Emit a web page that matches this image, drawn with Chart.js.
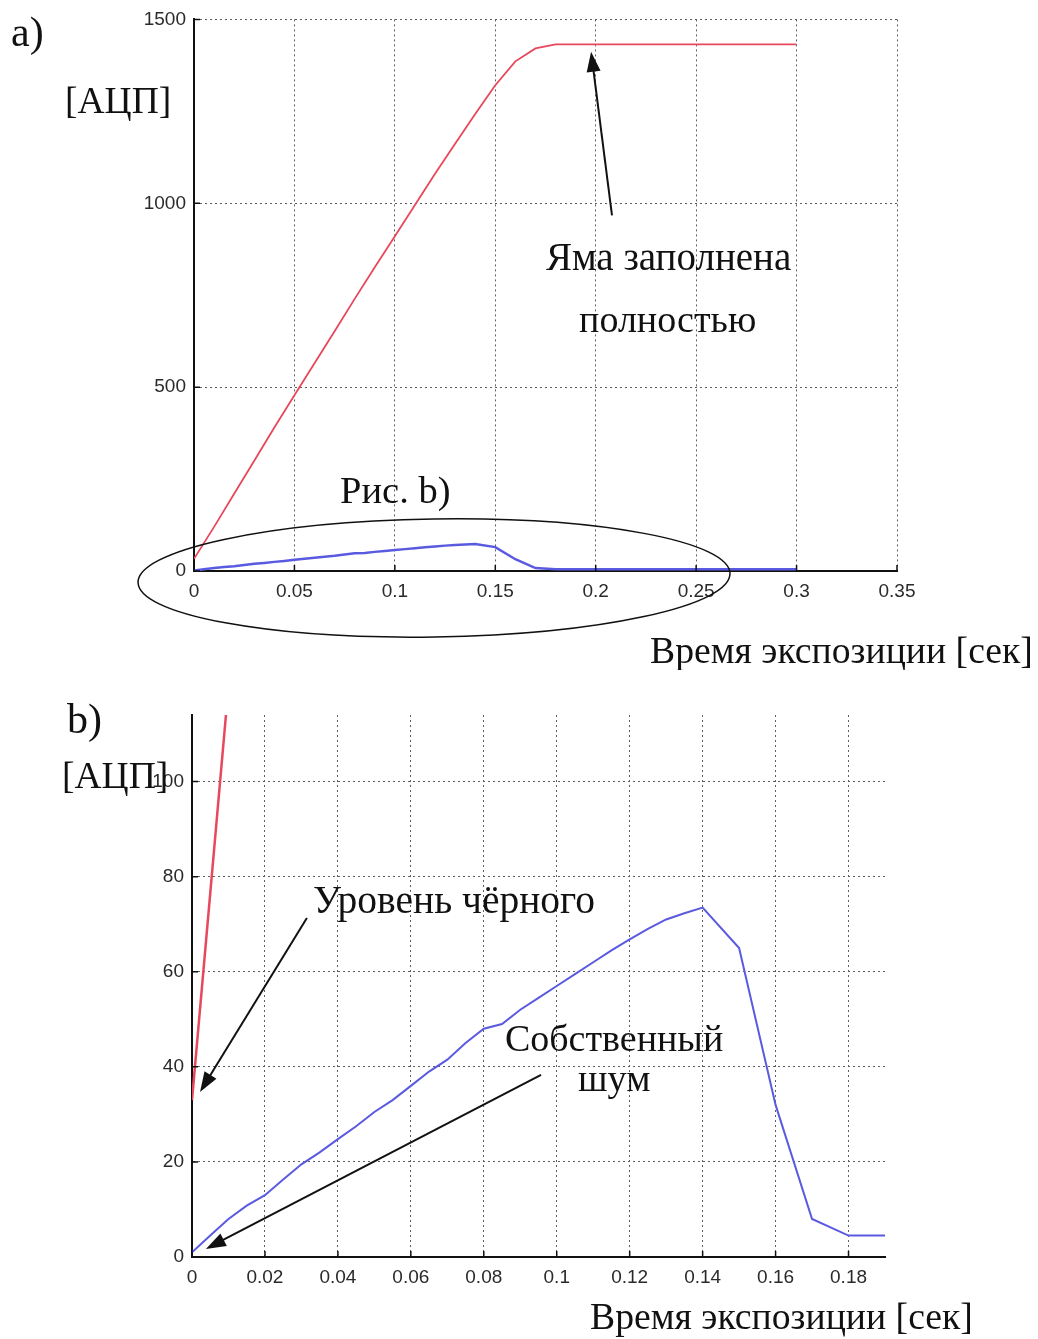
<!DOCTYPE html>
<html>
<head>
<meta charset="utf-8">
<title>Время экспозиции — АЦП</title>
<script src="https://cdn.jsdelivr.net/npm/chart.js@4.4.1/dist/chart.umd.min.js"></script>
<style>
  html, body { margin: 0; padding: 0; background: #fff; }
  #wrapA { position: absolute; left: 0; top: 0; width: 1038px; height: 670px; }
  #wrapB { position: absolute; left: 0; top: 670px; width: 1038px; height: 669px; }
</style>
</head>
<body>
<div id="wrapA"><canvas id="chartA"></canvas></div>
<div id="wrapB"><canvas id="chartB"></canvas></div>
<script>
// ---- measured signal: pixel output vs exposure time ----
// full signal (well filling up, saturates)
const timeRed = [0, 0.01, 0.02, 0.03, 0.04, 0.05, 0.06, 0.07, 0.08, 0.09, 0.10,
                 0.11, 0.12, 0.13, 0.14, 0.15, 0.16, 0.17, 0.18, 0.30];
const adcRed  = [33, 120, 210, 300, 390, 478, 565, 652, 740, 826, 910,
                 995, 1080, 1162, 1243, 1321, 1386, 1421, 1432, 1432];

// intrinsic noise
const timeBlue = [0, 0.005, 0.01, 0.015, 0.02, 0.025, 0.03, 0.035, 0.04, 0.045, 0.05,
                  0.055, 0.06, 0.065, 0.07, 0.075, 0.08, 0.085, 0.09, 0.095, 0.10,
                  0.105, 0.11, 0.115, 0.12, 0.125, 0.13, 0.135, 0.14, 0.15, 0.16,
                  0.17, 0.18, 0.19, 0.30];
const adcBlue  = [1, 4.5, 8, 10.8, 13, 16.3, 19.5, 22, 24.8, 27.5, 30.5,
                  33, 36, 39, 41.5, 45, 48, 49, 52, 54.5, 57,
                  59.5, 62, 64.5, 66.8, 69, 71, 72.3, 73.5, 65, 32,
                  8, 4.5, 4.5, 4.5];

// axis ticks
const xTicksA = [0, 0.05, 0.1, 0.15, 0.2, 0.25, 0.3, 0.35];
const yTicksA = [0, 500, 1000, 1500];
const xTicksB = [0, 0.02, 0.04, 0.06, 0.08, 0.1, 0.12, 0.14, 0.16, 0.18];
const yTicksB = [0, 20, 40, 60, 80, 100];

const RED = '#e8485c';
const BLUE = '#5a5ae0';
const SERIF = '"Liberation Serif", "DejaVu Serif", serif';
const SANS = '"Liberation Sans", Arial, sans-serif';

const pts = (xs, ys) => xs.map((x, i) => ({ x: x, y: ys[i] }));
const fmt = v => String(+Number(v).toFixed(3));

function arrow(ctx, x1, y1, x2, y2) {
  const head = 20, half = 7;
  const a = Math.atan2(y2 - y1, x2 - x1);
  const c = Math.cos(a), s = Math.sin(a);
  ctx.beginPath();
  ctx.moveTo(x1, y1);
  ctx.lineTo(x2 - c * head * 0.7, y2 - s * head * 0.7);
  ctx.stroke();
  ctx.beginPath();
  ctx.moveTo(x2, y2);
  ctx.lineTo(x2 - head * c + half * s, y2 - head * s - half * c);
  ctx.lineTo(x2 - head * c - half * s, y2 - head * s + half * c);
  ctx.closePath();
  ctx.fill();
}

// inward tick marks along both axes
function innerTicks(chart, len) {
  const ctx = chart.ctx, xs = chart.scales.x, ys = chart.scales.y, ca = chart.chartArea;
  ctx.save();
  ctx.strokeStyle = '#111';
  ctx.lineWidth = 1.5;
  ctx.beginPath();
  xs.ticks.forEach(t => {
    const px = xs.getPixelForValue(t.value);
    ctx.moveTo(px, ca.bottom); ctx.lineTo(px, ca.bottom - len);
  });
  ys.ticks.forEach(t => {
    const py = ys.getPixelForValue(t.value);
    ctx.moveTo(ca.left, py); ctx.lineTo(ca.left + len, py);
  });
  ctx.stroke();
  ctx.restore();
}

function axisOptions(ticksArr, min, max, fixedSize, isX) {
  return {
    type: 'linear',
    min: min, max: max,
    afterBuildTicks: s => { s.ticks = ticksArr.map(v => ({ value: v })); },
    afterFit: s => { if (isX) s.height = fixedSize; else s.width = fixedSize; },
    grid: { color: '#5e5e5e', lineWidth: 1, drawTicks: false },
    border: { display: true, color: '#111', width: 2, dash: [2, 3] },
    ticks: {
      padding: isX ? 9 : 8,
      color: '#2a2a2a',
      font: { family: SANS, size: 19 },
      callback: v => fmt(v),
      maxRotation: 0, autoSkip: false
    }
  };
}

function label(ctx, text, size, x, y) {
  ctx.font = size + 'px ' + SERIF;
  ctx.fillText(text, x, y);
}

const annotA = {
  id: 'annotA',
  afterDraw(chart) {
    const ctx = chart.ctx, xs = chart.scales.x, ys = chart.scales.y;
    innerTicks(chart, 6);
    ctx.save();
    ctx.fillStyle = '#111';
    ctx.strokeStyle = '#111';
    ctx.textBaseline = 'alphabetic';
    label(ctx, 'a)', 42, 11, 46);
    label(ctx, '[АЦП]', 37.5, 65, 113);
    label(ctx, 'Яма заполнена', 39, xs.getPixelForValue(0.1752), ys.getPixelForValue(818));
    label(ctx, 'полностью', 38, xs.getPixelForValue(0.1917), ys.getPixelForValue(650));
    label(ctx, 'Рис. b)', 38.5, xs.getPixelForValue(0.0727), ys.getPixelForValue(185));
    label(ctx, 'Время экспозиции [сек]', 37.7, 650, 663);
    // saturation pointer
    ctx.lineWidth = 2;
    arrow(ctx, xs.getPixelForValue(0.2081), ys.getPixelForValue(967),
               xs.getPixelForValue(0.1977), ys.getPixelForValue(1412));
    // outline around the low-signal region
    ctx.lineWidth = 1.5;
    ctx.beginPath();
    ctx.ellipse(xs.getPixelForValue(0.1195), ys.getPixelForValue(-19), 296, 59, -0.015, 0, Math.PI * 2);
    ctx.stroke();
    ctx.restore();
  }
};

const annotB = {
  id: 'annotB',
  afterDraw(chart) {
    const ctx = chart.ctx, xs = chart.scales.x, ys = chart.scales.y;
    innerTicks(chart, 6);
    ctx.save();
    ctx.fillStyle = '#111';
    ctx.strokeStyle = '#111';
    ctx.textBaseline = 'alphabetic';
    label(ctx, 'b)', 42, 67, 63);
    label(ctx, '[АЦП]', 37.5, 62, 118);
    label(ctx, 'Уровень чёрного', 39.5, xs.getPixelForValue(0.0332), ys.getPixelForValue(72.4));
    label(ctx, 'Собственный', 38, xs.getPixelForValue(0.0858), ys.getPixelForValue(43.4));
    label(ctx, 'шум', 38.4, xs.getPixelForValue(0.1058), ys.getPixelForValue(35));
    label(ctx, 'Время экспозиции [сек]', 37.7, 590, 659);
    ctx.lineWidth = 2;
    arrow(ctx, xs.getPixelForValue(0.0315), ys.getPixelForValue(71.3),
               xs.getPixelForValue(0.0022), ys.getPixelForValue(34.7));
    arrow(ctx, xs.getPixelForValue(0.0957), ys.getPixelForValue(38.3),
               xs.getPixelForValue(0.0038), ys.getPixelForValue(1.7));
    ctx.restore();
  }
};

const common = {
  responsive: true,
  maintainAspectRatio: false,
  animation: false,
  events: [],
  plugins: { legend: { display: false }, tooltip: { enabled: false } },
  elements: { point: { radius: 0 }, line: { tension: 0 } }
};

new Chart(document.getElementById('chartA'), {
  type: 'line',
  data: {
    datasets: [
      { data: pts(timeRed, adcRed), borderColor: RED, borderWidth: 1.8 },
      { data: pts(timeBlue, adcBlue), borderColor: BLUE, borderWidth: 2.5 }
    ]
  },
  options: Object.assign({}, common, {
    layout: { padding: { left: 130, right: 141, top: 19, bottom: 69 } },
    scales: {
      x: axisOptions(xTicksA, 0, 0.35, 30, true),
      y: axisOptions(yTicksA, 0, 1500, 64, false)
    }
  }),
  plugins: [annotA]
});

new Chart(document.getElementById('chartB'), {
  type: 'line',
  data: {
    datasets: [
      { data: pts(timeRed, adcRed), borderColor: RED, borderWidth: 2.5 },
      { data: pts(timeBlue, adcBlue), borderColor: BLUE, borderWidth: 2 }
    ]
  },
  options: Object.assign({}, common, {
    layout: { padding: { left: 128, right: 153, top: 45, bottom: 52 } },
    scales: {
      x: axisOptions(xTicksB, 0, 0.19, 30, true),
      y: axisOptions(yTicksB, 0, 114, 64, false)
    }
  }),
  plugins: [annotB]
});
</script>
</body>
</html>
